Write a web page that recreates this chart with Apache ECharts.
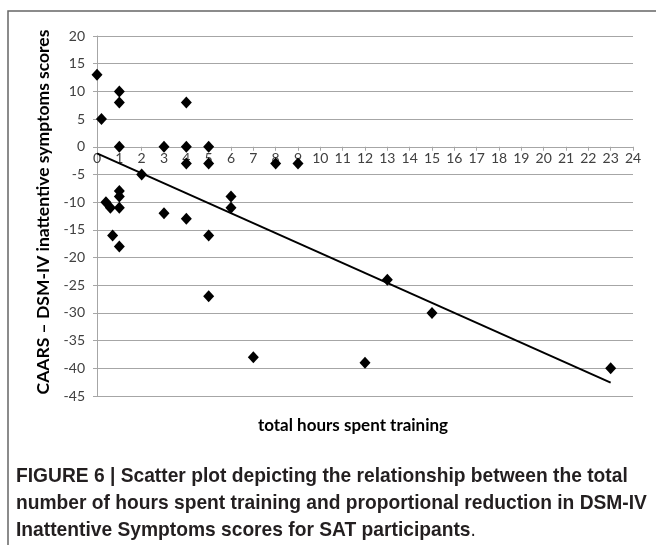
<!DOCTYPE html>
<html>
<head>
<meta charset="utf-8">
<script src="https://cdn.jsdelivr.net/npm/echarts@6/dist/echarts.min.js"></script>
<style>
  html, body { margin: 0; padding: 0; background: #fff; }
  #chart { width: 656px; height: 545px; }
</style>
</head>
<body>
<div id="chart"></div>
<script>
// hours spent training vs change in inattentive score
var hours = [0, 0.2, 1, 1, 1, 3, 4, 4, 5, 4, 5, 8, 9, 2, 1, 1, 1, 1, 0.4, 0.6, 0.7, 3, 4, 5, 6, 6, 5, 7, 12, 13, 15, 23]
var scores = [13, 5, 10, 8, 0, 0, 8, 0, 0, -3, -3, -3, -3, -5, -8, -9, -11, -18, -10, -11, -16, -12, -13, -16, -9, -11, -27, -38, -39, -24, -30, -40]

// trend line ends
var trendX = [0, 23]
var trendY = [-1.2, -42.6]

var yMin = -45
var yMax = 20

var yTitle = 'CAARS – DSM-IV inattentive symptoms scores'
var xTitle = 'total hours spent training'
var caption = [
  'FIGURE 6 | Scatter plot depicting the relationship between the total',
  'number of hours spent training and proportional reduction in DSM-IV',
  'Inattentive Symptoms scores for SAT participants'
]

var chart = echarts.init(document.getElementById('chart'))

var points = hours.map(function (h, i) { return [h, scores[i]] })
var trend = trendX.map(function (x, i) { return [x, trendY[i]] })

var labelFont = { color: '#404040', fontSize: 14, fontFamily: 'Lato' }
var gray = '#a6a6a6'
var capFont = { fontSize: 21, fontWeight: 'bold', fontFamily: 'Liberation Sans', fill: '#231f20' }

// caption line: condensed look by squeezing the text horizontally
function captionLine (y, text) {
  return {
    type: 'text', x: 16, y: y, scaleX: 0.915,
    style: Object.assign({ text: text, verticalAlign: 'middle' }, capFont)
  }
}

chart.setOption({
  animation: false,
  grid: { left: 97, right: 23, top: 36, bottom: 149 },
  xAxis: {
    type: 'value',
    min: 0, max: 24, interval: 1,
    axisLine: { onZero: false, lineStyle: { color: gray } },
    axisTick: { show: true, length: 4, lineStyle: { color: gray } },
    axisLabel: Object.assign({ margin: 5 }, labelFont),
    splitLine: { show: false }
  },
  yAxis: {
    type: 'value',
    min: yMin, max: yMax, interval: 5,
    axisLine: { show: true, onZero: false, lineStyle: { color: gray } },
    axisTick: { show: true, length: 4, lineStyle: { color: gray } },
    axisLabel: Object.assign({ margin: 12 }, labelFont),
    splitLine: { lineStyle: { color: gray, width: 1 } }
  },
  series: [
    {
      type: 'line',
      data: trend,
      symbol: 'none',
      lineStyle: { color: '#000', width: 2 },
      z: 3
    },
    {
      type: 'scatter',
      data: points,
      symbol: 'diamond',
      symbolSize: [11, 12],
      itemStyle: { color: '#000', opacity: 1 },
      z: 4
    }
  ],
  graphic: [
    // frame around figure
    { type: 'polyline', shape: { points: [[8, 545], [8, 11], [656, 11]] }, style: { stroke: '#666', lineWidth: 1.5, fill: null } },
    {
      type: 'text', x: 43, y: 212, rotation: Math.PI / 2,
      style: { text: yTitle, fontSize: 17.5, fontWeight: 'bold', fontFamily: 'Lato', fill: '#000', align: 'center', verticalAlign: 'middle' }
    },
    {
      type: 'text', x: 353, y: 426,
      style: { text: xTitle, fontSize: 17, fontWeight: 'bold', fontFamily: 'Lato', fill: '#000', align: 'center', verticalAlign: 'middle' }
    },
    captionLine(476, caption[0]),
    captionLine(503, caption[1]),
    {
      type: 'text', x: 16, y: 530, scaleX: 0.915,
      style: {
        text: '{b|' + caption[2] + '}{n|.}',
        verticalAlign: 'middle',
        rich: {
          b: capFont,
          n: Object.assign({}, capFont, { fontWeight: 'normal' })
        }
      }
    }
  ]
})

// move the x axis up so it crosses the y axis at 0
var zeroPx = chart.convertToPixel({ yAxisIndex: 0 }, 0)
var bottomPx = chart.convertToPixel({ yAxisIndex: 0 }, yMin)
chart.setOption({ xAxis: { offset: zeroPx - bottomPx } })
</script>
</body>
</html>
